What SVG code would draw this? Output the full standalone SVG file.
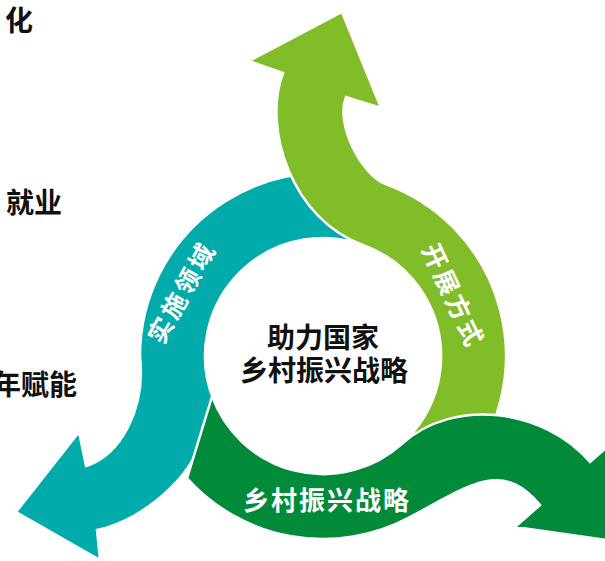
<svg xmlns="http://www.w3.org/2000/svg" width="605" height="561" viewBox="0 0 605 561">
<style>
.shape{stroke:#ffffff;stroke-width:2.5;stroke-linejoin:miter}
.teal{fill:#01abab}
.lime{fill:#80bd29}
.dgreen{fill:#008a3a}
.lbl{font-family:"Noto Sans CJK SC","Noto Sans",sans-serif;font-weight:bold;fill:#ffffff;font-size:25px;letter-spacing:3px;text-anchor:middle}
.dark{font-family:"Noto Sans CJK SC","Noto Sans",sans-serif;font-weight:bold;fill:#111111;font-size:28px}
</style>
<rect width="605" height="561" fill="#ffffff"/>
<g id="side-texts">
<text class="dark" x="33" y="31" text-anchor="end">化</text>
<text class="dark" x="62" y="213" text-anchor="end">就业</text>
<text class="dark" x="77" y="395" text-anchor="end">年赋能</text>
</g>
<g id="arrow-teal">
<path class="shape teal" d="M400.3,190.1 A183,183 0 0 0 140,356 C146,410 120,455 86,466 L79,432 L16,512 L100,560 L97,530 C147,520 203,467 203,427 L213.6,400.2 A118,118 0 0 1 372.9,249.1 Z"/>
<text class="lbl" transform="translate(182,292.5) rotate(-61)" y="9">实施领域</text>
</g>
<g id="arrow-lime">
<path class="shape lime" d="M463.2,473.6 A183,183 0 0 0 385.6,184 C362,175 335,125 346,97 L381,108 L342,12 L249,61 L283,73 C262,128 292,220 363.4,245.1 A118,118 0 0 1 363.4,466.9 Z"/>
<text class="lbl" transform="translate(453,296) rotate(65)" y="9">开展方式</text>
</g>
<g id="arrow-darkgreen">
<path class="shape dgreen" d="M187,478.4 A183,183 0 0 0 408.9,517.6 C471,485 501,459 540,505 L515,527 L614,541 L615,440 L590,462 C544.5,408.8 454,396.9 402,443.7 A118,118 0 0 1 212.1,396.4 Z"/>
<text class="lbl" x="327" y="510" style="font-size:26px;letter-spacing:2px">乡村振兴战略</text>
</g>
<g id="center-node">
<text class="dark" x="323" y="348" text-anchor="middle">助力国家</text>
<text class="dark" x="324" y="381" text-anchor="middle">乡村振兴战略</text>
</g>
</svg>
